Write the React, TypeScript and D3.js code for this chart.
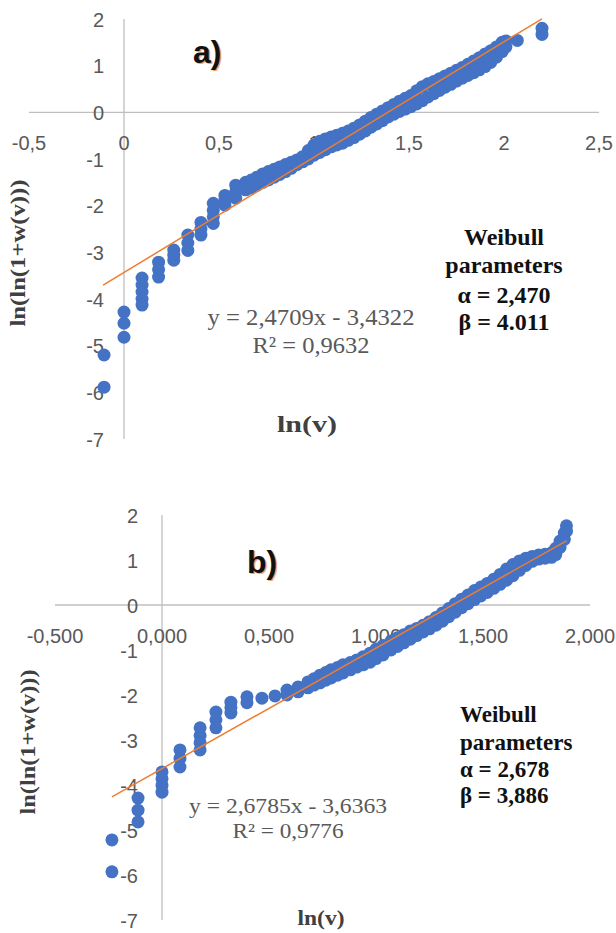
import * as d3 from "d3";

// ln(v) column -> ln(ln(1+w(v))) values, panel a)
const pointsA: [number, number[]][] = [
  [-0.105, [-5.2, -5.89]],
  [0, [-4.28, -4.52, -4.82]],
  [0.095, [-3.55, -3.7, -3.85, -4.0, -4.13]],
  [0.182, [-3.21, -3.37, -3.53]],
  [0.262, [-2.95, -3.06, -3.17]],
  [0.336, [-2.63, -2.8, -2.96]],
  [0.405, [-2.36, -2.5, -2.63]],
  [0.47, [-1.95, -2.1, -2.24, -2.38]],
  [0.531, [-1.78, -1.88, -1.99]],
  [0.588, [-1.56, -1.7, -1.84]],
  [0.64, [-1.5, -1.66]],
  [0.67, [-1.45, -1.62]],
  [0.7, [-1.39, -1.56]],
  [0.73, [-1.32, -1.5]],
  [0.76, [-1.27, -1.45]],
  [0.79, [-1.22, -1.39]],
  [0.82, [-1.17, -1.33]],
  [0.85, [-1.12, -1.27]],
  [0.88, [-1.07, -1.2]],
  [0.91, [-1.02, -1.12]],
  [0.94, [-0.95, -1.06]],
  [0.97, [-0.82, -1.0]],
  [1.0, [-0.7, -0.92]],
  [1.03, [-0.62, -0.86]],
  [1.06, [-0.57, -0.8]],
  [1.09, [-0.53, -0.74]],
  [1.12, [-0.49, -0.7]],
  [1.15, [-0.45, -0.66]],
  [1.18, [-0.4, -0.6]],
  [1.21, [-0.34, -0.54]],
  [1.24, [-0.27, -0.47]],
  [1.27, [-0.19, -0.4]],
  [1.3, [-0.11, -0.32]],
  [1.33, [-0.04, -0.25]],
  [1.36, [0.03, -0.18]],
  [1.39, [0.1, -0.1]],
  [1.42, [0.17, -0.04]],
  [1.45, [0.24, 0.02]],
  [1.48, [0.3, 0.07]],
  [1.51, [0.36, 0.12]],
  [1.54, [0.46, 0.18]],
  [1.57, [0.55, 0.25]],
  [1.6, [0.61, 0.33]],
  [1.63, [0.66, 0.4]],
  [1.66, [0.72, 0.47]],
  [1.69, [0.78, 0.54]],
  [1.72, [0.84, 0.6]],
  [1.75, [0.9, 0.67]],
  [1.78, [0.96, 0.73]],
  [1.81, [1.03, 0.79]],
  [1.84, [1.1, 0.85]],
  [1.87, [1.17, 0.91]],
  [1.9, [1.25, 0.98]],
  [1.93, [1.32, 1.07]],
  [1.96, [1.4, 1.18]],
  [1.99, [1.5, 1.3]],
  [2.01, [1.53, 1.4]],
  [2.07, [1.54]],
  [2.2, [1.8, 1.67]],
];

// panel b)
const pointsB: [number, number[]][] = [
  [-0.234, [-5.22, -5.93]],
  [-0.112, [-4.29, -4.56, -4.82]],
  [0, [-3.71, -3.86, -4.01, -4.16]],
  [0.084, [-3.22, -3.41, -3.6]],
  [0.178, [-2.73, -2.9, -3.06, -3.22]],
  [0.252, [-2.38, -2.55, -2.73]],
  [0.322, [-2.16, -2.28, -2.4]],
  [0.397, [-2.04, -2.17]],
  [0.467, [-2.07]],
  [0.528, [-2.02]],
  [0.584, [-1.89, -2.0]],
  [0.636, [-1.82, -1.93]],
  [0.682, [-1.71, -1.84]],
  [0.71, [-1.64, -1.78]],
  [0.738, [-1.56, -1.73]],
  [0.765, [-1.5, -1.67]],
  [0.79, [-1.44, -1.62]],
  [0.82, [-1.39, -1.56]],
  [0.846, [-1.33, -1.51]],
  [0.88, [-1.28, -1.44]],
  [0.91, [-1.22, -1.38]],
  [0.94, [-1.15, -1.33]],
  [0.972, [-1.07, -1.27]],
  [1.0, [-0.98, -1.19]],
  [1.033, [-0.9, -1.11]],
  [1.07, [-0.8, -1.0]],
  [1.1, [-0.73, -0.92]],
  [1.13, [-0.66, -0.84]],
  [1.16, [-0.58, -0.76]],
  [1.19, [-0.52, -0.68]],
  [1.22, [-0.45, -0.6]],
  [1.25, [-0.37, -0.53]],
  [1.28, [-0.28, -0.45]],
  [1.31, [-0.18, -0.36]],
  [1.34, [-0.08, -0.26]],
  [1.37, [0.03, -0.16]],
  [1.4, [0.13, -0.06]],
  [1.43, [0.22, 0.03]],
  [1.46, [0.32, 0.12]],
  [1.49, [0.4, 0.2]],
  [1.52, [0.48, 0.28]],
  [1.55, [0.57, 0.37]],
  [1.58, [0.68, 0.46]],
  [1.61, [0.8, 0.55]],
  [1.64, [0.9, 0.65]],
  [1.67, [0.98, 0.77]],
  [1.7, [1.04, 0.88]],
  [1.73, [1.08, 0.97]],
  [1.76, [1.11, 1.02]],
  [1.79, [1.13, 1.04]],
  [1.82, [1.16, 1.06]],
  [1.84, [1.26, 1.12]],
  [1.86, [1.42, 1.28]],
  [1.88, [1.6, 1.46]],
  [1.89, [1.76, 1.64]],
];

const xTicksA = [-0.5, 0, 0.5, 1, 1.5, 2, 2.5];
const xTicksB = [-0.5, 0, 0.5, 1, 1.5, 2];
const yTicks = [2, 1, 0, -1, -2, -3, -4, -5, -6, -7];

// trend lines (Excel linear fit) and Weibull params
const fitA = { slope: 2.4709, intercept: -3.4322, r2: "0,9632", from: -0.11, to: 2.2 };
const fitB = { slope: 2.6785, intercept: -3.6363, r2: "0,9776", from: -0.234, to: 1.89 };
const weibullA = ["Weibull", "parameters", "α = 2,470", "β = 4.011"];
const weibullB = ["Weibull", "parameters", "α = 2,678", "β = 3,886"];

const BLUE = "#4472C4";
const ORANGE = "#ED7D31";
const GRID = "#BFBFBF";
const TICK = "#595959";
const SERIF = "'Liberation Serif', 'Times New Roman', serif";
const SANS = "'Liberation Sans', Arial, sans-serif";

const comma = (f: string) => (v: number) => d3.format(f)(v).replace(".", ",").replace("−", "-");

function Panel(props: any) {
  const { pts, xTicks, fmt, fit, weib, tag, xr, yr, o } = props;
  const x = d3.scaleLinear().domain([xTicks[0], xTicks[xTicks.length - 1]]).range(xr);
  const y = d3.scaleLinear().domain([-7, 2]).range(yr);
  const flat = pts.flatMap(([v, ys]: [number, number[]]) => ys.map((w) => [v, w]));
  const line = d3
    .line<number>()
    .x((v) => x(v))
    .y((v) => y(fit.slope * v + fit.intercept));
  const eq = `y = ${String(fit.slope).replace(".", ",")}x - ${String(-fit.intercept).replace(".", ",")}`;

  return (
    <g>
      <line x1={x.range()[0]} x2={x.range()[1]} y1={y(0)} y2={y(0)} stroke={GRID} strokeWidth={1.3} />
      <line x1={x(0)} x2={x(0)} y1={y(2)} y2={y(-7)} stroke={GRID} strokeWidth={1.3} />

      {xTicks.map((t: number) => (
        <text key={"x" + t} x={x(t)} y={o.xLabY} textAnchor="middle" fontFamily={SANS} fontSize={20} fill={TICK}>
          {fmt(t)}
        </text>
      ))}
      {yTicks.map((t) => (
        <text key={"y" + t} x={o.yLabX} y={y(t) + 7.5} textAnchor="end" fontFamily={SANS} fontSize={20} fill={TICK}>
          {t}
        </text>
      ))}

      {flat.map(([v, w]: number[], i: number) => (
        <circle key={i} cx={x(v)} cy={y(w)} r={6.5} fill={BLUE} />
      ))}

      <path d={line([fit.from, fit.to]) || ""} stroke={ORANGE} strokeWidth={1.5} fill="none" />

      <text x={o.eqX} y={o.eqY} textLength={o.eqW} lengthAdjust="spacingAndGlyphs"
        fontFamily={SERIF} fill={TICK} fontSize={o.eqSize} textAnchor="middle">
        {eq}
      </text>
      <text x={o.eqX} y={o.eqY + o.eqGap} textLength={o.r2W} lengthAdjust="spacingAndGlyphs"
        fontFamily={SERIF} fill={TICK} fontSize={o.eqSize} textAnchor="middle">
        {`R² = ${fit.r2}`}
      </text>

      <text
        transform={`translate(${o.yTitleX},${o.yTitleY}) rotate(-90)`}
        textAnchor="middle"
        fontFamily={SERIF}
        fontWeight="bold"
        fill="#404040"
        fontSize={20}
        textLength={o.yTitleW}
        lengthAdjust="spacingAndGlyphs"
      >
        ln(ln(1+w(v)))
      </text>
      <text x={o.xTitleX} y={o.xTitleY} textAnchor="middle" fontFamily={SERIF} fontWeight="bold" fill="#404040"
        fontSize={o.xTitleSize} textLength={o.xTitleW} lengthAdjust="spacingAndGlyphs">
        ln(v)
      </text>

      {weib.map((s: string, i: number) => (
        <text key={s} x={o.wX} y={o.wY[i]} fontFamily={SERIF} fontWeight="bold" fill="#111"
          fontSize={o.wSize} textAnchor={o.wAnchor}>
          {s}
        </text>
      ))}

      <text x={o.tagX + 1.5} y={o.tagY + 1} fill={ORANGE} opacity={0.7} fontFamily={SANS} fontWeight="bold" fontSize={32}>
        {tag}
      </text>
      <text x={o.tagX} y={o.tagY} fill="#111" fontFamily={SANS} fontWeight="bold" fontSize={32}>
        {tag}
      </text>
    </g>
  );
}

export default function App() {
  return (
    <svg width={616} height={933} style={{ position: "absolute", left: 0, top: 0, background: "#fff" }}>
      <Panel
        pts={pointsA}
        xTicks={xTicksA}
        fmt={comma("~g")}
        fit={fitA}
        weib={weibullA}
        tag="a)"
        xr={[29, 599]}
        yr={[439, 19]}
        o={{
          xLabY: 150,
          yLabX: 104,
          eqX: 311,
          eqY: 325,
          eqGap: 28,
          eqW: 207,
          r2W: 117,
          eqSize: 23,
          yTitleX: 25,
          yTitleY: 253,
          yTitleW: 147,
          xTitleX: 307,
          xTitleY: 432,
          xTitleSize: 23,
          xTitleW: 60,
          wX: 504,
          wY: [245, 273, 303, 330],
          wSize: 24,
          wAnchor: "middle",
          tagX: 193,
          tagY: 63,
        }}
      />
      <Panel
        pts={pointsB}
        xTicks={xTicksB}
        fmt={comma(".3f")}
        fit={fitB}
        weib={weibullB}
        tag="b)"
        xr={[55, 590]}
        yr={[920, 515]}
        o={{
          xLabY: 643,
          yLabX: 138,
          eqX: 288,
          eqY: 813,
          eqGap: 25,
          eqW: 198,
          r2W: 111,
          eqSize: 22,
          yTitleX: 35,
          yTitleY: 742,
          yTitleW: 145,
          xTitleX: 321,
          xTitleY: 925,
          xTitleSize: 20,
          xTitleW: 47,
          wX: 460,
          wY: [722, 750, 777, 803],
          wSize: 23,
          wAnchor: "start",
          tagX: 247,
          tagY: 573,
        }}
      />
    </svg>
  );
}
